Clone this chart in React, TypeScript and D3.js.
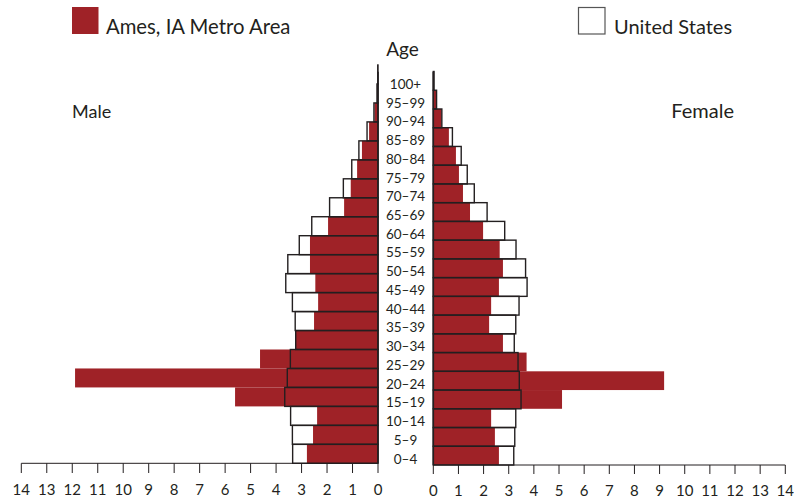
import React from "react";
import * as d3 from "d3";

const ageGroups = ["0–4","5–9","10–14","15–19","20–24","25–29","30–34","35–39","40–44","45–49","50–54","55–59","60–64","65–69","70–74","75–79","80–84","85–89","90–94","95–99","100+"];
const maleAmes = [2.79,2.55,2.39,5.61,11.89,4.63,3.22,2.51,2.35,2.46,2.67,2.67,1.96,1.33,1.07,0.82,0.63,0.35,0.14,0.04,0.01];
const maleUS = [3.35,3.36,3.43,3.66,3.56,3.44,3.23,3.25,3.36,3.62,3.54,3.09,2.6,1.9,1.36,1.03,0.75,0.43,0.16,0.04,0.01];
const femaleAmes = [2.61,2.45,2.30,5.12,9.18,3.71,2.77,2.22,2.30,2.61,2.77,2.64,1.98,1.46,1.18,1.02,0.90,0.62,0.33,0.13,0.02];
const femaleUS = [3.20,3.24,3.28,3.49,3.42,3.37,3.22,3.28,3.41,3.73,3.67,3.29,2.84,2.14,1.63,1.35,1.11,0.76,0.34,0.13,0.03];
const tickValues = [0,1,2,3,4,5,6,7,8,9,10,11,12,13,14];

const RED = "#9f2227";
const INK = "#231f20";
const FONT = "Lato, 'Open Sans', sans-serif";

export default function App() {
  const W = 794, H = 501;
  const xL = d3.scaleLinear().domain([0, 14]).range([378, 21.3]);
  const xR = d3.scaleLinear().domain([0, 14]).range([433.3, 785.3]);
  const yL = d3.scaleBand<string>().domain(ageGroups).range([463.3, 65]).padding(0);
  const yR = d3.scaleBand<string>().domain(ageGroups).range([465, 71.5]).padding(0);
  const bwL = yL.bandwidth();
  const bwR = yR.bandwidth();

  return (
    <svg width={W} height={H} style={{ position: "absolute", left: 0, top: 0, background: "#fff" }} fontFamily={FONT}>
      <rect x={0} y={0} width={W} height={H} fill="#fff" />
      {/* legend */}
      <rect x={72} y={7} width={26.5} height={27} fill={RED} />
      <text x={106} y={34} fontSize={20.3} fill={INK}>Ames, IA Metro Area</text>
      <rect x={578.5} y={7.5} width={26.5} height={26.5} fill="#fff" stroke="#555" strokeWidth={1.2} />
      <text x={614} y={34} fontSize={20} fill={INK}>United States</text>
      <text x={402.5} y={56} fontSize={19} fill={INK} textAnchor="middle">Age</text>
      <text x={72} y={118} fontSize={18} fill={INK}>Male</text>
      <text x={734} y={118} fontSize={20} fill={INK} textAnchor="end">Female</text>

      {/* Ames bars */}
      {ageGroups.map((a, i) => (
        <rect key={"ml" + a} x={xL(maleAmes[i])} y={yL(a)!} width={xL(0) - xL(maleAmes[i])} height={bwL} fill={RED} />
      ))}
      {ageGroups.map((a, i) => (
        <rect key={"fl" + a} x={xR(0)} y={yR(a)!} width={xR(femaleAmes[i]) - xR(0)} height={bwR} fill={RED} />
      ))}
      {/* US outlines */}
      {ageGroups.map((a, i) => (
        <rect key={"mu" + a} x={xL(maleUS[i])} y={yL(a)!} width={xL(0) - xL(maleUS[i])} height={bwL} fill="none" stroke={INK} strokeWidth={1.4} />
      ))}
      {ageGroups.map((a, i) => (
        <rect key={"fu" + a} x={xR(0)} y={yR(a)!} width={xR(femaleUS[i]) - xR(0)} height={bwR} fill="none" stroke={INK} strokeWidth={1.4} />
      ))}

      {/* center lines */}
      <line x1={xL(0)} x2={xL(0)} y1={71.7} y2={463.3} stroke={INK} strokeWidth={1.6} />
      <line x1={xR(0)} x2={xR(0)} y1={71.7} y2={465} stroke={INK} strokeWidth={1.6} />

      {/* age labels */}
      {ageGroups.map((a) => (
        <text key={"lab" + a} x={405.5} y={yR(a)! + bwR - 1.4} fontSize={13.5} fill={INK} textAnchor="middle">{a}</text>
      ))}

      {/* x axes */}
      <line x1={xL(14)} x2={xL(0)} y1={463.3} y2={463.3} stroke={INK} strokeWidth={1} />
      {tickValues.map((t) => (
        <g key={"tl" + t}>
          <line x1={xL(t)} x2={xL(t)} y1={463.3} y2={473} stroke={INK} strokeWidth={1} />
          <text x={xL(t)} y={495} fontSize={15} fill={INK} textAnchor="middle">{t}</text>
        </g>
      ))}
      <line x1={xR(0)} x2={xR(14)} y1={465} y2={465} stroke={INK} strokeWidth={1} />
      {tickValues.map((t) => (
        <g key={"tr" + t}>
          <line x1={xR(t)} x2={xR(t)} y1={465} y2={474} stroke={INK} strokeWidth={1} />
          <text x={xR(t)} y={495.5} fontSize={15} fill={INK} textAnchor="middle">{t}</text>
        </g>
      ))}
    </svg>
  );
}
